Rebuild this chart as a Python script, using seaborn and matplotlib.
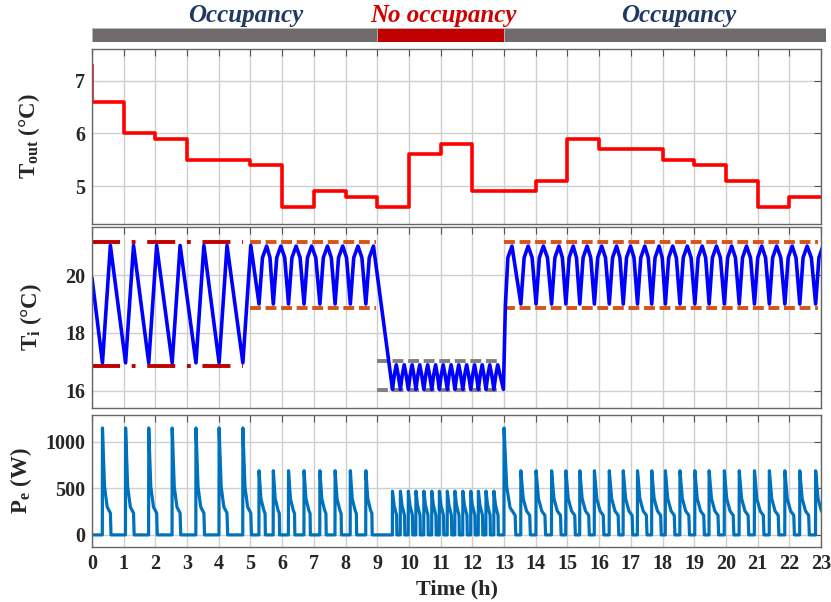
import matplotlib
matplotlib.use("Agg")
import matplotlib.pyplot as plt
import pandas as pd
import seaborn as sns

# Temperatura exterior (escalones horarios, el primer punto es el pico en t=0)
tout_time = [0, 0, 1, 2, 3, 4, 5, 6, 7, 8, 9, 10, 11, 12, 13, 14, 15, 16, 17, 18, 19, 20, 21, 22, 23]
tout_vals = [7.3, 6.6, 6.0, 5.9, 5.5, 5.5, 5.4, 4.6, 4.9, 4.8, 4.6, 5.6, 5.8, 4.9, 4.9,
             5.1, 5.9, 5.7, 5.7, 5.5, 5.4, 5.1, 4.6, 4.8, 4.8]

# Barra de ocupacion
occ_start = [0, 9, 13]
occ_len = [9, 4, 10.15]
occ_label = ["Occupancy", "No occupancy", "Occupancy"]
occ_label_x = [4.85, 11.1, 18.5]
occ_color = ["#706c6d", "#c00000", "#706c6d"]
occ_text_color = ["#1f3864", "#d00000", "#1f3864"]

# Instantes de encendido de la calefaccion (por tramo)
on_A = [0.33, 1.06, 1.79, 2.53, 3.28, 4.01, 4.76]
on_B = [5.27, 5.72, 6.20, 6.69, 7.19, 7.67, 8.15, 8.64]
on_C = [9.48, 9.73, 9.98, 10.22, 10.47, 10.72, 10.96, 11.21, 11.45, 11.70, 11.95, 12.19, 12.43, 12.68]
on_D = [13.0, 13.53, 14.01, 14.50, 14.95, 15.39, 15.85, 16.32, 16.76, 17.21, 17.66, 18.09,
        18.55, 19.02, 19.47, 19.95, 20.42, 20.90, 21.37, 21.86, 22.33, 22.83]

# Ti: minimo, maximo, tiempo de subida y "redondeo" (subida / bajada) por tramo
ti_low = [16.97, 19.0, 16.05, 19.0]
ti_high = [21.02, 21.0, 16.9, 21.0]
ti_rise = [0.25, 0.24, 0.12, 0.23]
ti_dome_up = [0.45, 0.8, 0.55, 0.8]
ti_dome_down = [0.5, 0.8, 0.55, 0.8]
ti_start = [0.0, 19.9]
ti_link_x = [12.98, 13.04, 13.12, 13.25]
ti_link_y = [16.05, 18.9, 20.6, 21.0]

# Bandas de confort
band_start = [0, 5.0, 9.0, 13.0]
band_end = [4.75, 8.95, 12.9, 22.9]
band_upper = [21.15, 21.15, 17.04, 21.15]
band_lower = [16.87, 18.87, 16.03, 18.87]
band_color = ["#c00000", "#d95319", "#808080", "#d95319"]

# Forma de cada pulso de potencia (desfase en h, valor en W)
pulse_off_A = [0, 0.065, 0.15, 0.25, 0.27]
pulse_val_A = [1150, 520, 300, 235, 0]
pulse_off_B = [0, 0.06, 0.15, 0.19, 0.20]
pulse_val_B = [690, 390, 265, 230, 0]
pulse_off_C = [0, 0.05, 0.13, 0.14]
pulse_val_C = [470, 320, 210, 0]
pulse_off_D0 = [0, 0.084, 0.19, 0.35, 0.37]
pulse_val_D0 = [1150, 518, 293, 210, 0]
pulse_off_D = [0, 0.074, 0.18, 0.28, 0.30]
pulse_val_D = [690, 391, 257, 210, 0]


def pulsos(tiempos, offs, vals):
    xs, ys = [], []
    for t in tiempos:
        xs += [t - 0.004] + [t + o for o in offs]
        ys += [0] + vals
    return xs, ys


pe_x, pe_y = [0.0], [0.0]
for tt, oo, vv in [(on_A, pulse_off_A, pulse_val_A), (on_B, pulse_off_B, pulse_val_B),
                   (on_C, pulse_off_C, pulse_val_C), (on_D[:1], pulse_off_D0, pulse_val_D0),
                   (on_D[1:], pulse_off_D, pulse_val_D)]:
    xs, ys = pulsos(tt, oo, vv)
    pe_x += xs
    pe_y += ys

ti_x, ti_y = [ti_start[0]], [ti_start[1]]
for k, on in enumerate([on_A, on_B, on_C, on_D[1:]]):
    if k == 3:
        ti_x += ti_link_x
        ti_y += ti_link_y
    lo, hi, r = ti_low[k], ti_high[k], ti_rise[k]
    for i, t in enumerate(on):
        ti_x += [t, t + r * 0.45, t + r]
        ti_y += [lo, lo + ti_dome_up[k] * (hi - lo), hi]
        if i + 1 < len(on):
            f = on[i + 1] - t - r
            ti_x.append(t + r + 0.5 * f)
            ti_y.append(lo + ti_dome_down[k] * (hi - lo))

df_tout = pd.DataFrame({"t": tout_time, "v": tout_vals})
df_ti = pd.DataFrame({"t": ti_x, "v": ti_y})
df_pe = pd.DataFrame({"t": pe_x, "v": pe_y})

sns.set_style("white")
plt.rcParams["font.family"] = ["Liberation Serif", "DejaVu Serif"]
plt.rcParams["font.weight"] = "bold"
plt.rcParams["mathtext.fontset"] = "custom"
plt.rcParams["mathtext.rm"] = "Liberation Serif:bold"
plt.rcParams["mathtext.bf"] = "Liberation Serif:bold"
plt.rcParams["mathtext.it"] = "Liberation Serif:bold"

fig = plt.figure(figsize=(8.31, 6.02), dpi=100)
ax0 = fig.add_axes([0.1095, 0.9302, 0.8845, 0.0233])
ax1 = fig.add_axes([0.1107, 0.6279, 0.8773, 0.2907])
ax2 = fig.add_axes([0.1107, 0.3223, 0.8773, 0.3007])
ax3 = fig.add_axes([0.1107, 0.0914, 0.8773, 0.2193])

# barra superior
ax0.barh(y=[0, 0, 0], width=occ_len, left=occ_start, height=1, color=occ_color,
         edgecolor="#b8b8b8", linewidth=0.6)
for x, lab, c in zip(occ_label_x, occ_label, occ_text_color):
    ax0.text(x, 0.95, lab, ha="center", va="baseline", color=c, fontsize=18,
             fontweight="bold", fontstyle="italic", clip_on=False)
ax0.set_xlim(-0.03, 23.15)
ax0.set_ylim(-0.5, 0.5)
ax0.axis("off")

sns.lineplot(data=df_tout, x="t", y="v", ax=ax1, color="#ff0000", lw=2.6,
             drawstyle="steps-post", sort=False, estimator=None)
sns.lineplot(data=df_ti, x="t", y="v", ax=ax2, color="#0000ff", lw=2.6,
             sort=False, estimator=None)
sns.lineplot(data=df_pe, x="t", y="v", ax=ax3, color="#0072bd", lw=2.3,
             sort=False, estimator=None)

estilos = [(0, (7.2, 3, 1, 3)), (0, (2.8, 1.2)), (0, (2.8, 1.2)), (0, (2.8, 1.2))]
for s, e, up, lo, c, ls in zip(band_start, band_end, band_upper, band_lower, band_color, estilos):
    ax2.plot([s, e], [up, up], color=c, lw=2.8, linestyle=ls, zorder=1)
    ax2.plot([s, e], [lo, lo], color=c, lw=2.8, linestyle=ls, zorder=1)

ax1.set_ylim(4.28, 7.6)
ax1.set_yticks([5, 6, 7])
ax2.set_ylim(15.41, 21.66)
ax2.set_yticks([16, 18, 20])
ax3.set_ylim(-130, 1290)
ax3.set_yticks([0, 500, 1000])

for ax in [ax1, ax2, ax3]:
    ax.set_xlim(0, 23)
    ax.set_xticks(range(24))
    ax.grid(True, color="#cfcfcf", lw=1)
    ax.tick_params(direction="in", top=True, right=True, length=5, color="#555555",
                   labelsize=14.5, pad=5)
    for sp in ax.spines.values():
        sp.set_color("#666666")
        sp.set_linewidth(1)
    ax.set_xlabel("")
    if ax is not ax3:
        ax.tick_params(labelbottom=False)

ax1.set_ylabel(r"$\mathbf{T_{out}}$ (°C)", fontsize=16.5, fontweight="bold")
ax2.set_ylabel(r"$\mathbf{T_{i}}$ (°C)", fontsize=16.5, fontweight="bold")
ax3.set_ylabel(r"$\mathbf{P_{e}}$ (W)", fontsize=16.5, fontweight="bold")
ax1.yaxis.set_label_coords(-0.068, 0.5)
ax2.yaxis.set_label_coords(-0.066, 0.5)
ax3.yaxis.set_label_coords(-0.08, 0.5)
ax3.set_xlabel("Time (h)", fontsize=16, fontweight="bold", labelpad=4)

fig.savefig("out.png", dpi=100)
